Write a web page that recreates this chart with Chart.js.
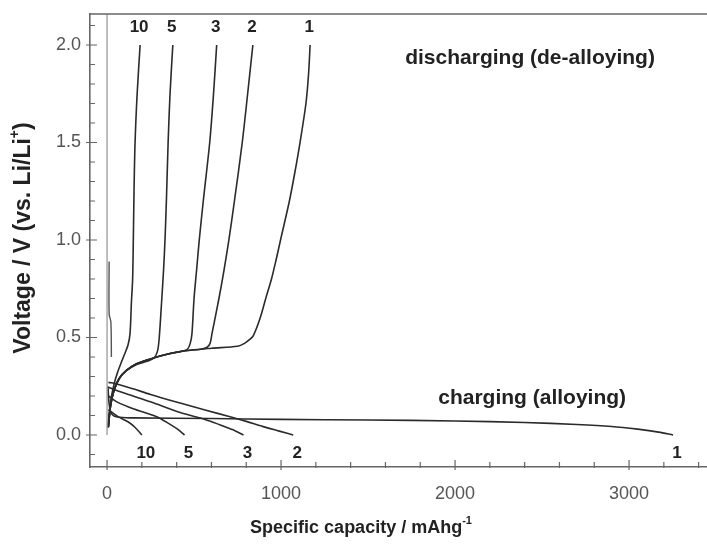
<!DOCTYPE html>
<html>
<head>
<meta charset="utf-8">
<script src="https://cdn.jsdelivr.net/npm/chart.js@4.4.1/dist/chart.umd.min.js"></script>
<style>
  html, body { margin: 0; padding: 0; background: #fff; }
  #wrap { width: 707px; height: 544px; position: relative; }
</style>
</head>
<body>
<div id="wrap"><canvas id="cv"></canvas></div>
<script>
'use strict';

// cycle numbers, same order as the curve arrays below
const cycles = ['1', '2', '3', '5', '10'];

// de-alloying (discharge) curves: [capacity mAh/g, voltage V]
const dis1 = [[8, 0.04], [20, 0.15], [40, 0.23], [70, 0.29], [110, 0.33], [170, 0.365], [250, 0.39], [350, 0.415], [450, 0.432], [600, 0.445], [750, 0.455], [790, 0.47], [820, 0.49], [841, 0.51], [880, 0.6], [912, 0.7], [945, 0.8], [972, 0.9], [997, 1.0], [1048, 1.2], [1080, 1.35], [1109, 1.5], [1143, 1.7], [1158, 1.85], [1167, 2.0]];
const dis2 = [[8, 0.04], [20, 0.15], [40, 0.23], [70, 0.29], [110, 0.33], [170, 0.365], [250, 0.39], [350, 0.415], [450, 0.432], [540, 0.44], [575, 0.45], [592, 0.47], [603, 0.52], [643, 0.7], [673, 0.85], [700, 1.0], [732, 1.2], [777, 1.5], [808, 1.75], [838, 2.0]];
const dis3 = [[7, 0.04], [20, 0.15], [40, 0.23], [70, 0.29], [110, 0.33], [170, 0.365], [250, 0.39], [350, 0.415], [430, 0.43], [462, 0.44], [478, 0.47], [488, 0.52], [500, 0.7], [515, 0.85], [530, 1.0], [553, 1.2], [590, 1.5], [612, 1.75], [630, 2.0]];
const dis5 = [[6, 0.04], [20, 0.15], [40, 0.23], [70, 0.29], [110, 0.33], [170, 0.362], [230, 0.378], [270, 0.395], [290, 0.43], [300, 0.5], [314, 0.69], [325, 0.85], [333, 1.0], [341, 1.2], [351, 1.5], [362, 1.75], [378, 2.0]];
const dis10 = [[5, 0.04], [20, 0.17], [40, 0.26], [60, 0.32], [94, 0.4], [120, 0.46], [132, 0.52], [140, 0.68], [147, 0.8], [151, 1.0], [155, 1.25], [161, 1.5], [173, 1.75], [190, 2.0]];

// alloying (charge) curves
const chg1 = [[5, 0.25], [12, 0.16], [25, 0.11], [60, 0.092], [150, 0.088], [600, 0.085], [1000, 0.08], [1500, 0.077], [2000, 0.072], [2400, 0.064], [2700, 0.054], [2900, 0.044], [3050, 0.03], [3170, 0.015], [3253, 0.0]];
const chg2 = [[8, 0.27], [56, 0.262], [150, 0.237], [250, 0.208], [420, 0.164], [563, 0.128], [707, 0.094], [800, 0.07], [897, 0.043], [990, 0.02], [1070, 0.0]];
const chg3 = [[8, 0.245], [56, 0.228], [150, 0.2], [250, 0.17], [420, 0.115], [563, 0.08], [650, 0.052], [720, 0.028], [784, 0.0]];
const chg5 = [[8, 0.2], [56, 0.17], [150, 0.135], [285, 0.094], [360, 0.056], [405, 0.03], [445, 0.0]];
const chg10 = [[8, 0.13], [63, 0.094], [120, 0.068], [160, 0.04], [200, 0.0]];

// open-circuit trace at zero capacity
const ocvLine = [[0, 2.16], [0, 0.0]];
const ocvSpike = [[12, 0.89], [12, 0.62], [22, 0.58], [25, 0.4]];

const xTicks = [0, 1000, 2000, 3000];
const yTicks = [0.0, 0.5, 1.0, 1.5, 2.0];

const disSets = [dis1, dis2, dis3, dis5, dis10];
const chgSets = [chg1, chg2, chg3, chg5, chg10];

const FONT = '"Liberation Sans", Arial, Helvetica, sans-serif';
const INK = '#222';
const AXIS = '#666';

const toXY = arr => arr.map(([c, v]) => ({ x: c, y: v }));

function curve(arr, color, width) {
    return {
        data: toXY(arr),
        showLine: true,
        pointRadius: 0,
        borderColor: color,
        borderWidth: width,
        tension: 0.3,
        fill: false
    };
}

// draws text with one superscript piece, centred on (0,0) of the current transform
function supText(ctx, base, sup, after, size) {
    const big = 'bold ' + size + 'px ' + FONT;
    const small = 'bold ' + Math.round(size * 0.6) + 'px ' + FONT;
    ctx.font = big;
    const w1 = ctx.measureText(base).width;
    const w3 = ctx.measureText(after).width;
    ctx.font = small;
    const w2 = ctx.measureText(sup).width;
    const x0 = -(w1 + w2 + w3) / 2;
    ctx.textAlign = 'left';
    ctx.textBaseline = 'middle';
    ctx.font = big;
    ctx.fillText(base, x0, 0);
    ctx.fillText(after, x0 + w1 + w2, 0);
    ctx.font = small;
    ctx.fillText(sup, x0 + w1, -size * 0.4);
}

const decor = {
    id: 'decor',
    afterDraw(chart) {
        const { ctx, chartArea: a, scales: { x, y } } = chart;
        ctx.save();

        // top frame line
        ctx.strokeStyle = AXIS;
        ctx.lineWidth = 1.6;
        ctx.beginPath();
        ctx.moveTo(a.left, a.top);
        ctx.lineTo(a.right, a.top);
        ctx.stroke();

        // tick marks: minor inside, major crossing the axis
        ctx.lineWidth = 1.2;
        ctx.beginPath();
        for (let c = 0; c <= x.max; c += 200) {
            const px = x.getPixelForValue(c);
            const major = c % 1000 === 0;
            ctx.moveTo(px, a.bottom + (major ? 3 : 1));
            ctx.lineTo(px, a.bottom - (major ? 7 : 5));
        }
        for (let k = -1; k <= 21; k++) {
            const py = y.getPixelForValue(k / 10);
            const major = k % 5 === 0;
            ctx.moveTo(a.left - (major ? 4 : 1), py);
            ctx.lineTo(a.left + (major ? 7 : 5), py);
        }
        ctx.stroke();

        // cycle numbers at the curve ends
        ctx.fillStyle = INK;
        ctx.font = 'bold 17px ' + FONT;
        ctx.textAlign = 'center';
        ctx.textBaseline = 'middle';
        disSets.forEach((d, i) => {
            const end = d[d.length - 1];
            ctx.fillText(cycles[i], x.getPixelForValue(end[0]) - 1, y.getPixelForValue(2.09));
        });
        chgSets.forEach((d, i) => {
            const end = d[d.length - 1];
            ctx.fillText(cycles[i], x.getPixelForValue(end[0]) + 4, y.getPixelForValue(-0.092));
        });

        // process notes
        ctx.font = 'bold 21px ' + FONT;
        ctx.fillText('discharging (de-alloying)', x.getPixelForValue(2431), y.getPixelForValue(1.933));
        ctx.fillText('charging (alloying)', x.getPixelForValue(2443), y.getPixelForValue(0.19));

        // axis titles
        ctx.save();
        ctx.translate(24, 238);
        ctx.rotate(-Math.PI / 2);
        supText(ctx, 'Voltage / V (vs. Li/Li', '+', ')', 23);
        ctx.restore();

        ctx.save();
        ctx.translate(361, 528);
        supText(ctx, 'Specific capacity / mAhg', '-1', '', 18);
        ctx.restore();

        ctx.restore();
    }
};

const datasets = [
    curve(ocvLine, '#9a9a9a', 1.3),
    curve(ocvSpike, '#555', 1.4)
];
disSets.forEach(d => datasets.push(curve(d, '#2b2b2b', 1.6)));
chgSets.forEach(d => datasets.push(curve(d, '#2b2b2b', 1.6)));

new Chart(document.getElementById('cv').getContext('2d'), {
    type: 'scatter',
    data: { datasets },
    options: {
        responsive: true,
        maintainAspectRatio: false,
        animation: false,
        layout: { padding: { top: 14, right: 0, left: 0, bottom: 0 } },
        plugins: { legend: { display: false }, tooltip: { enabled: false } },
        scales: {
            x: {
                type: 'linear',
                min: -98,
                max: 3448,
                afterBuildTicks: s => { s.ticks = xTicks.map(v => ({ value: v })); },
                afterFit: s => { s.height = 77; s.paddingLeft = 0; s.paddingRight = 0; },
                ticks: {
                    callback: v => String(v),
                    font: { family: FONT, size: 18 },
                    color: '#555',
                    padding: 16,
                    maxRotation: 0
                },
                grid: { drawOnChartArea: false, drawTicks: false },
                border: { display: true, color: AXIS, width: 1.6 }
            },
            y: {
                type: 'linear',
                min: -0.164,
                max: 2.159,
                afterBuildTicks: s => { s.ticks = yTicks.map(v => ({ value: v })); },
                afterFit: s => { s.width = 90; s.paddingTop = 0; s.paddingBottom = 0; },
                ticks: {
                    callback: v => v.toFixed(1),
                    font: { family: FONT, size: 18 },
                    color: '#555',
                    padding: 9
                },
                grid: { drawOnChartArea: false, drawTicks: false },
                border: { display: true, color: AXIS, width: 1.6 }
            }
        }
    },
    plugins: [decor]
});
</script>
</body>
</html>
